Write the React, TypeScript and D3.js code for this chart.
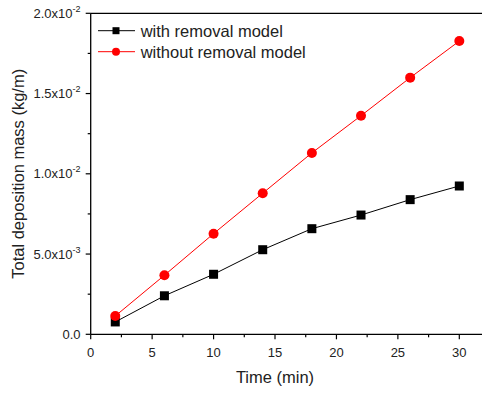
import React from "react";
import * as d3 from "d3";

const times = [2, 6, 10, 14, 18, 22, 26, 30];
const withRemoval = [0.00077, 0.0024, 0.00374, 0.00527, 0.00658, 0.00743, 0.00839, 0.00924];
const withoutRemoval = [0.00114, 0.00368, 0.00627, 0.00879, 0.0113, 0.01362, 0.01599, 0.01827];
const xTicks = [0, 5, 10, 15, 20, 25, 30];
const yTicks = [0, 0.005, 0.01, 0.015, 0.02];
const yTickMantissa = ["0.0", "5.0x10", "1.0x10", "1.5x10", "2.0x10"];
const yTickExp = ["", "-3", "-2", "-2", "-2"];
const seriesNames = ["with removal model", "without removal model"];

const W = 482;
const H = 394;
const FONT = "'Liberation Sans', Arial, sans-serif";

export default function App() {
  const x = d3.scaleLinear().domain([0, 32]).range([90.7, 90.7 + 32 * 12.287]);
  const y = d3.scaleLinear().domain([0, 0.02]).range([334.3, 13.3]);
  const left = x(0);
  const bottom = y(0);
  const top = y(0.02);
  const right = x(32);

  const line = d3
    .line<[number, number]>()
    .x((d) => x(d[0]))
    .y((d) => y(d[1]));

  const blackPts: [number, number][] = times.map((t, i) => [t, withRemoval[i]]);
  const redPts: [number, number][] = times.map((t, i) => [t, withoutRemoval[i]]);

  const xMinor = d3.range(2.5, 32, 5);
  const yMinor = d3.range(0.0025, 0.02, 0.005);

  return (
    <svg
      width={W}
      height={H}
      style={{ position: "absolute", left: 0, top: 0, background: "#fff" }}
      fontFamily={FONT}
    >
      <rect x={0} y={0} width={W} height={H} fill="#fff" />
      {/* frame */}
      <line x1={left} x2={right} y1={top} y2={top} stroke="#000" strokeWidth={1.3} />
      <line x1={left} x2={right} y1={bottom} y2={bottom} stroke="#000" strokeWidth={1.3} />
      <line x1={left} x2={left} y1={top} y2={bottom} stroke="#000" strokeWidth={1.3} />

      {/* x ticks */}
      {xTicks.map((t) => (
        <g key={"xt" + t}>
          <line x1={x(t)} x2={x(t)} y1={bottom} y2={bottom + 5} stroke="#000" strokeWidth={1.2} />
          <text x={x(t)} y={357} fontSize={13} textAnchor="middle" fill="#222">
            {t}
          </text>
        </g>
      ))}
      {xMinor.map((t) => (
        <line key={"xm" + t} x1={x(t)} x2={x(t)} y1={bottom} y2={bottom + 3} stroke="#000" strokeWidth={1.2} />
      ))}

      {/* y ticks */}
      {yTicks.map((v, i) => (
        <g key={"yt" + i}>
          <line x1={left - 5} x2={left} y1={y(v)} y2={y(v)} stroke="#000" strokeWidth={1.2} />
          <text x={80.5} y={y(v) + 4.6} fontSize={13} textAnchor="end" fill="#222">
            {yTickMantissa[i]}
            {yTickExp[i] && (
              <tspan fontSize={9} dy={-6}>
                {yTickExp[i]}
              </tspan>
            )}
          </text>
        </g>
      ))}
      {yMinor.map((v, i) => (
        <line key={"ym" + i} x1={left - 3} x2={left} y1={y(v)} y2={y(v)} stroke="#000" strokeWidth={1.2} />
      ))}

      {/* axis titles */}
      <text x={(left + x(30)) / 2 + 0} y={382.5} fontSize={16.5} textAnchor="middle" fill="#222">
        Time (min)
      </text>
      <text
        transform={`translate(24,${(top + bottom) / 2 - 0}) rotate(-90)`}
        fontSize={16.5}
        textAnchor="middle"
        fill="#222"
      >
        Total deposition mass (kg/m)
      </text>

      {/* series */}
      <path d={line(blackPts) || ""} fill="none" stroke="#000" strokeWidth={1} />
      <path d={line(redPts) || ""} fill="none" stroke="#ff0000" strokeWidth={1} />
      {blackPts.map((p, i) => (
        <rect key={"b" + i} x={x(p[0]) - 4.5} y={y(p[1]) - 4.5} width={9} height={9} fill="#000" />
      ))}
      {redPts.map((p, i) => (
        <circle key={"r" + i} cx={x(p[0])} cy={y(p[1])} r={5} fill="#ff0000" />
      ))}

      {/* legend */}
      <g>
        <line x1={98} x2={135} y1={30.7} y2={30.7} stroke="#000" strokeWidth={1} />
        <rect x={112.5} y={27.2} width={7} height={7} fill="#000" />
        <text x={140.7} y={36.6} fontSize={16.5} fill="#222">
          {seriesNames[0]}
        </text>
        <line x1={98} x2={135} y1={51.7} y2={51.7} stroke="#ff0000" strokeWidth={1} />
        <circle cx={116} cy={51.7} r={4} fill="#ff0000" />
        <text x={140.7} y={57.6} fontSize={16.5} fill="#222">
          {seriesNames[1]}
        </text>
      </g>
    </svg>
  );
}
